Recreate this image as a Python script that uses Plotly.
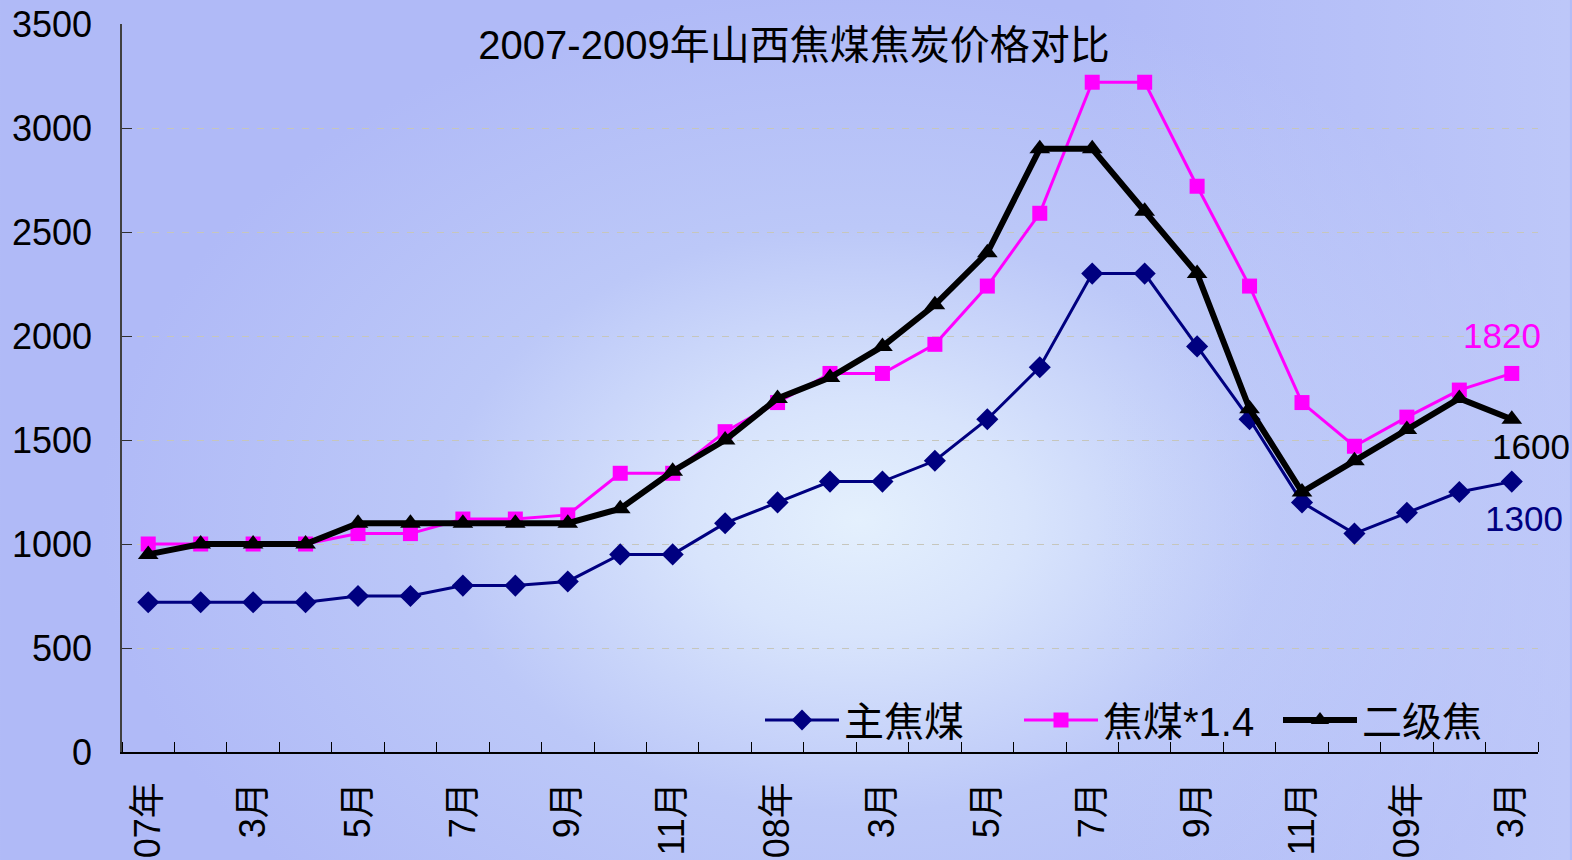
import base64
import plotly.graph_objects as go

# Month labels, Jan 2007 .. Mar 2009
months = ["07年", "2月", "3月", "4月", "5月", "6月", "7月", "8月", "9月", "10月", "11月", "12月",
          "08年", "2月", "3月", "4月", "5月", "6月", "7月", "8月", "9月", "10月", "11月", "12月",
          "09年", "2月", "3月"]

# Prices (yuan/ton)
main_coking_coal = [720, 720, 720, 720, 750, 750, 800, 800, 820, 950, 950, 1100, 1200, 1300,
                    1300, 1400, 1600, 1850, 2300, 2300, 1950, 1600, 1200, 1050, 1150, 1250, 1300]
coking_coal_x14 = [1000, 1000, 1000, 1000, 1050, 1050, 1120, 1120, 1140, 1340, 1340, 1540, 1680, 1820,
                   1820, 1960, 2240, 2590, 3220, 3220, 2720, 2240, 1680, 1470, 1610, 1740, 1820]
grade2_coke = [950, 1000, 1000, 1000, 1100, 1100, 1100, 1100, 1100, 1170, 1350, 1500, 1700, 1800,
               1950, 2150, 2400, 2900, 2900, 2600, 2300, 1650, 1250, 1400, 1550, 1700, 1600]

series_names = ["主焦煤", "焦煤*1.4", "二级焦"]

x_idx = list(range(len(months)))
tick_idx = x_idx[::2]
tick_text = months[::2]

FONT = "Liberation Sans, Arial, Noto Sans CJK SC, sans-serif"

# soft lavender background with a pale glow in the middle
bg_svg = """<svg xmlns='http://www.w3.org/2000/svg' width='1572' height='860' viewBox='0 0 1572 860'>
<defs>
<radialGradient id='g' cx='860' cy='520' r='760' gradientUnits='userSpaceOnUse'
 gradientTransform='translate(860 520) scale(1 0.7) translate(-860 -520)'>
<stop offset='0' stop-color='#e4f0fd'/>
<stop offset='0.22' stop-color='#d8e4fc'/>
<stop offset='0.55' stop-color='#bcc8f8'/>
<stop offset='1' stop-color='#b0baf7'/>
</radialGradient>
<linearGradient id='h' x1='0' y1='0' x2='1' y2='0'>
<stop offset='0' stop-color='#b4bef8' stop-opacity='0'/>
<stop offset='0.7' stop-color='#c4cefa' stop-opacity='0'/>
<stop offset='1' stop-color='#c6d0fa' stop-opacity='0.6'/>
</linearGradient>
</defs>
<rect width='1572' height='860' fill='#b2bcf7'/>
<rect width='1572' height='860' fill='url(#g)'/>
<rect width='1572' height='860' fill='url(#h)'/>
</svg>"""
bg_uri = "data:image/svg+xml;base64," + base64.b64encode(bg_svg.encode("utf-8")).decode("ascii")

fig = go.Figure()

fig.add_trace(go.Scatter(
    x=x_idx, y=main_coking_coal, name=series_names[0], mode="lines+markers",
    line=dict(color="#000080", width=3),
    marker=dict(symbol="diamond", size=17, color="#000080"),
))
fig.add_trace(go.Scatter(
    x=x_idx, y=coking_coal_x14, name=series_names[1], mode="lines+markers",
    line=dict(color="#ff00ff", width=3),
    marker=dict(symbol="square", size=15, color="#ff00ff"),
))
fig.add_trace(go.Scatter(
    x=x_idx, y=grade2_coke, name=series_names[2], mode="lines+markers",
    line=dict(color="#000000", width=6),
    marker=dict(symbol="triangle-up", size=18, color="#000000"),
))

# end-of-series value labels
last = x_idx[-1]
fig.add_annotation(x=last, y=coking_coal_x14[-1], text=str(coking_coal_x14[-1]), showarrow=False,
                   xshift=-10, yshift=38, font=dict(size=35, color="#ff00ff", family=FONT))
fig.add_annotation(x=last, y=grade2_coke[-1], text=str(grade2_coke[-1]), showarrow=False,
                   xshift=19, yshift=-27, font=dict(size=35, color="#000000", family=FONT))
fig.add_annotation(x=last, y=main_coking_coal[-1], text=str(main_coking_coal[-1]), showarrow=False,
                   xshift=12, yshift=-37, font=dict(size=35, color="#000080", family=FONT))

fig.add_layout_image(dict(
    source=bg_uri, xref="paper", yref="paper", x=-122 / 1418, y=1 + 24 / 728,
    sizex=1572 / 1418, sizey=860 / 728, sizing="stretch", xanchor="left", yanchor="top",
    layer="below",
))

fig.update_layout(
    width=1572, height=860,
    margin=dict(l=122, r=34, t=24, b=108, autoexpand=False),
    paper_bgcolor="#b2bcf7",
    plot_bgcolor="rgba(0,0,0,0)",
    font=dict(family=FONT, color="#000000"),
    title=dict(text="2007-2009年山西焦煤焦炭价格对比", x=794 / 1572, xref="container", xanchor="center",
               y=1 - 45 / 860, yref="container", yanchor="middle", automargin=False,
               font=dict(size=40, family=FONT, color="#000000")),
    showlegend=True,
    legend=dict(orientation="h", xref="container", x=760 / 1572, xanchor="left",
                y=(752 - 720) / 728, yanchor="middle",
                bgcolor="rgba(0,0,0,0)", font=dict(size=40, family=FONT, color="#000000"),
                itemwidth=74, entrywidth=170, entrywidthmode="pixels", traceorder="normal"),
    xaxis=dict(
        range=[-0.5, len(months) - 0.5], tickmode="array", tickvals=tick_idx, ticktext=tick_text,
        tickangle=-90, ticks="", showgrid=False, zeroline=False, automargin=False,
        showline=True, linecolor="#000000", linewidth=1.5,
        tickfont=dict(size=36, family=FONT, color="#000000"), ticklabelstandoff=14,
        minor=dict(ticks="inside", tick0=0.5, dtick=1, ticklen=10, tickcolor="#000000",
                   tickwidth=1, showgrid=False),
    ),
    yaxis=dict(
        range=[0, 3500], tickmode="linear", tick0=0, dtick=500, automargin=False,
        ticks="inside", ticklen=10, tickcolor="#303030", tickwidth=1,
        showline=True, linecolor="#404040", linewidth=1.5, zeroline=False,
        showgrid=True, gridcolor="#c6c6bc", griddash="7px,8px", gridwidth=1,
        tickfont=dict(size=36, family=FONT, color="#000000"), ticklabelstandoff=21,
    ),
)

fig.write_html("out.html")
